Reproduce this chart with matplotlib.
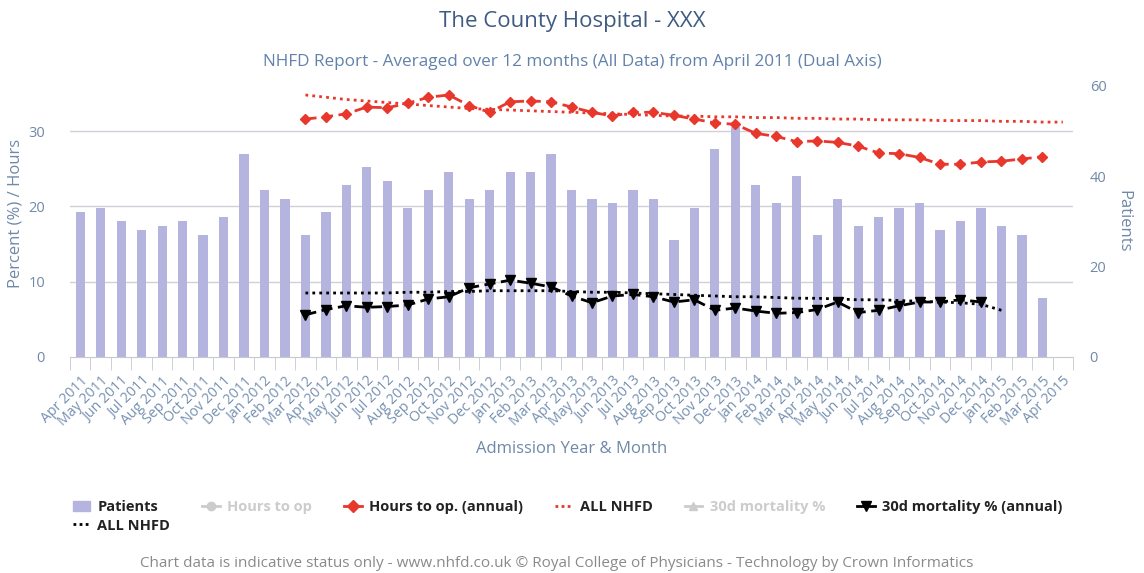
import matplotlib.pyplot as plt
from matplotlib.lines import Line2D
from matplotlib.patches import Patch
import numpy as np

plt.rcParams['font.family'] = ['Open Sans', 'DejaVu Sans']

# categories: Apr 2011 .. Apr 2015
months = ['Apr 2011', 'May 2011', 'Jun 2011', 'Jul 2011', 'Aug 2011', 'Sep 2011',
          'Oct 2011', 'Nov 2011', 'Dec 2011', 'Jan 2012', 'Feb 2012', 'Mar 2012',
          'Apr 2012', 'May 2012', 'Jun 2012', 'Jul 2012', 'Aug 2012', 'Sep 2012',
          'Oct 2012', 'Nov 2012', 'Dec 2012', 'Jan 2013', 'Feb 2013', 'Mar 2013',
          'Apr 2013', 'May 2013', 'Jun 2013', 'Jul 2013', 'Aug 2013', 'Sep 2013',
          'Oct 2013', 'Nov 2013', 'Dec 2013', 'Jan 2014', 'Feb 2014', 'Mar 2014',
          'Apr 2014', 'May 2014', 'Jun 2014', 'Jul 2014', 'Aug 2014', 'Sep 2014',
          'Oct 2014', 'Nov 2014', 'Dec 2014', 'Jan 2015', 'Feb 2015', 'Mar 2015',
          'Apr 2015']

# patients per month, Apr 2011 .. Mar 2015
patients = [32, 33, 30, 28, 29, 30, 27, 31, 45, 37, 35, 27,
            32, 38, 42, 39, 33, 37, 41, 35, 37, 41, 41, 45,
            37, 35, 34, 37, 35, 26, 33, 46, 51, 38, 34, 40,
            27, 35, 29, 31, 33, 34, 28, 30, 33, 29, 27, 13]

# hours to op (annual), Mar 2012 .. Mar 2015
hours_annual = [31.6, 31.9, 32.3, 33.2, 33.1, 33.7, 34.5, 34.8, 33.4, 32.5,
                33.9, 34.0, 33.9, 33.2, 32.5, 32.0, 32.5, 32.5, 32.1, 31.6,
                31.1, 30.9, 29.7, 29.3, 28.6, 28.7, 28.5, 28.0, 27.1, 27.0,
                26.5, 25.6, 25.6, 25.9, 26.0, 26.3, 26.6]
# ALL NHFD hours, Mar 2012 .. Apr 2015
hours_nhfd = [34.8, 34.5, 34.2, 34.0, 33.8, 33.6, 33.4, 33.2, 33.0, 32.9,
              32.8, 32.7, 32.6, 32.5, 32.4, 32.3, 32.2, 32.1, 32.0, 32.0,
              31.9, 31.9, 31.8, 31.8, 31.7, 31.7, 31.6, 31.6, 31.5, 31.5,
              31.5, 31.4, 31.4, 31.4, 31.3, 31.3, 31.2, 31.2]

# 30d mortality % (annual), Mar 2012 .. Dec 2014
mort_annual = [5.6, 6.3, 6.8, 6.6, 6.7, 6.9, 7.7, 8.0, 9.2, 9.7,
               10.2, 9.8, 9.3, 8.1, 7.2, 8.1, 8.3, 8.0, 7.3, 7.6,
               6.2, 6.5, 6.1, 5.8, 5.9, 6.3, 7.3, 5.9, 6.2, 6.8,
               7.3, 7.3, 7.6, 7.3]
# ALL NHFD mortality, Mar 2012 .. Jan 2015
mort_nhfd = [8.5, 8.5, 8.5, 8.5, 8.5, 8.6, 8.6, 8.7, 8.7, 8.8,
             8.8, 8.8, 8.8, 8.7, 8.6, 8.6, 8.5, 8.4, 8.3, 8.2,
             8.1, 8.0, 8.0, 7.9, 7.8, 7.8, 7.7, 7.6, 7.6, 7.5,
             7.4, 7.3, 7.2, 7.0, 6.2]

start = months.index('Mar 2012')

axis_col = '#6f89a8'
red = '#e8372c'
bar_col = '#b4b4de'
grid_col = '#d0d0d8'

fig = plt.figure(figsize=(11.44, 5.73), dpi=100)
ax = fig.add_axes([0.0612, 0.377, 0.8768, 0.473])
ax2 = ax.twinx()
ax.set_zorder(ax2.get_zorder() + 1)
ax.patch.set_visible(False)

x = np.arange(len(months))

# bars on the patients axis
ax2.bar(x[:len(patients)], patients, width=0.45, color=bar_col, zorder=2)

# grid lines of the left axis, drawn behind the bars
for v in [10, 20, 30]:
    ax2.plot([0, 1], [v, v], transform=ax.get_yaxis_transform(),
             color=grid_col, lw=1, zorder=0)

ax.plot(x[start:start + len(hours_annual)], hours_annual, color=red, ls=(0, (4, 2)),
        lw=2, marker='D', ms=5.5)
ax.plot(x[start:start + len(hours_nhfd)], hours_nhfd, color=red, ls=(0, (1, 1.5)), lw=2)
ax.plot(x[start:start + len(mort_annual)], mort_annual, color='black', ls=(0, (4, 2)),
        lw=2, marker='v', ms=6.5)
ax.plot(x[start:start + len(mort_nhfd)], mort_nhfd, color='black', ls=(0, (1, 1.5)), lw=2)

ax.set_xlim(-0.5, len(months) - 0.5)
ax.set_ylim(0, 36)
ax2.set_ylim(0, 60)
ax.set_yticks([0, 10, 20, 30])
ax2.set_yticks([0, 20, 40, 60])

for a in (ax, ax2):
    for s in ['top', 'left', 'right']:
        a.spines[s].set_visible(False)
    a.spines['bottom'].set_color('#c8c8d0')
    a.tick_params(axis='y', length=0, colors=axis_col, labelsize=10.5)
ax2.spines['bottom'].set_visible(False)
ax.tick_params(axis='y', pad=18)
ax2.tick_params(axis='y', pad=12)

# category labels, tick marks between categories
ax.set_xticks(x)
ax.set_xticklabels(months, rotation=45, ha='right', rotation_mode='anchor',
                   fontsize=10.2, color='#7590b0')
ax.tick_params(axis='x', which='major', length=0, pad=12)
ax.set_xticks(np.arange(-0.5, len(months)), minor=True)
ax.tick_params(axis='x', which='minor', length=9, color='#c8c8d0')

ax.set_ylabel('Percent (%) / Hours', color=axis_col, fontsize=12, labelpad=6)
ax.yaxis.set_label_coords(-0.046, 0.53)
ax2.set_ylabel('Patients', color=axis_col, fontsize=12, rotation=270, labelpad=18)
ax.set_xlabel('Admission Year & Month', color=axis_col, fontsize=12, labelpad=8)

fig.text(0.5, 0.962, 'The County Hospital - XXX', ha='center', va='center',
         fontsize=16, color='#3f5b82')
fig.text(0.5, 0.892, 'NHFD Report - Averaged over 12 months (All Data) from April 2011 (Dual Axis)',
         ha='center', va='center', fontsize=12.3, color='#6282aa')
fig.text(0.487, 0.017, 'Chart data is indicative status only - www.nhfd.co.uk \u00a9 Royal College of '
         'Physicians - Technology by Crown Informatics', ha='center', va='center',
         fontsize=11, color='#8a8a8a')

# legend
faded = '#cccccc'
handles = [
    Patch(color=bar_col),
    Line2D([], [], color='black', ls=(0, (1, 1.2)), lw=2),
    Line2D([], [], color=faded, lw=2, marker='o', ms=6),
    Line2D([], [], color=red, lw=2, marker='D', ms=6),
    Line2D([], [], color=red, ls=(0, (1, 1.2)), lw=2),
    Line2D([], [], color=faded, lw=2, marker='^', ms=6),
    Line2D([], [], color='black', lw=2, marker='v', ms=7),
]
labels = ['Patients', 'ALL NHFD', 'Hours to op', 'Hours to op. (annual)', 'ALL NHFD',
          '30d mortality %', '30d mortality % (annual)']
leg = fig.legend(handles, labels, ncol=6, loc='upper left',
                 frameon=False, handlelength=1.2, handletextpad=0.5, columnspacing=2.2,
                 prop={'weight': 'bold', 'size': 10.5}, labelspacing=0.3)
leg.set_bbox_to_anchor((0.052, 0.15), transform=fig.transFigure)
for t, lab in zip(leg.get_texts(), labels):
    if lab in ('Hours to op', '30d mortality %'):
        t.set_color(faded)
    else:
        t.set_color('#222222')

fig.savefig('out.png', dpi=100)
